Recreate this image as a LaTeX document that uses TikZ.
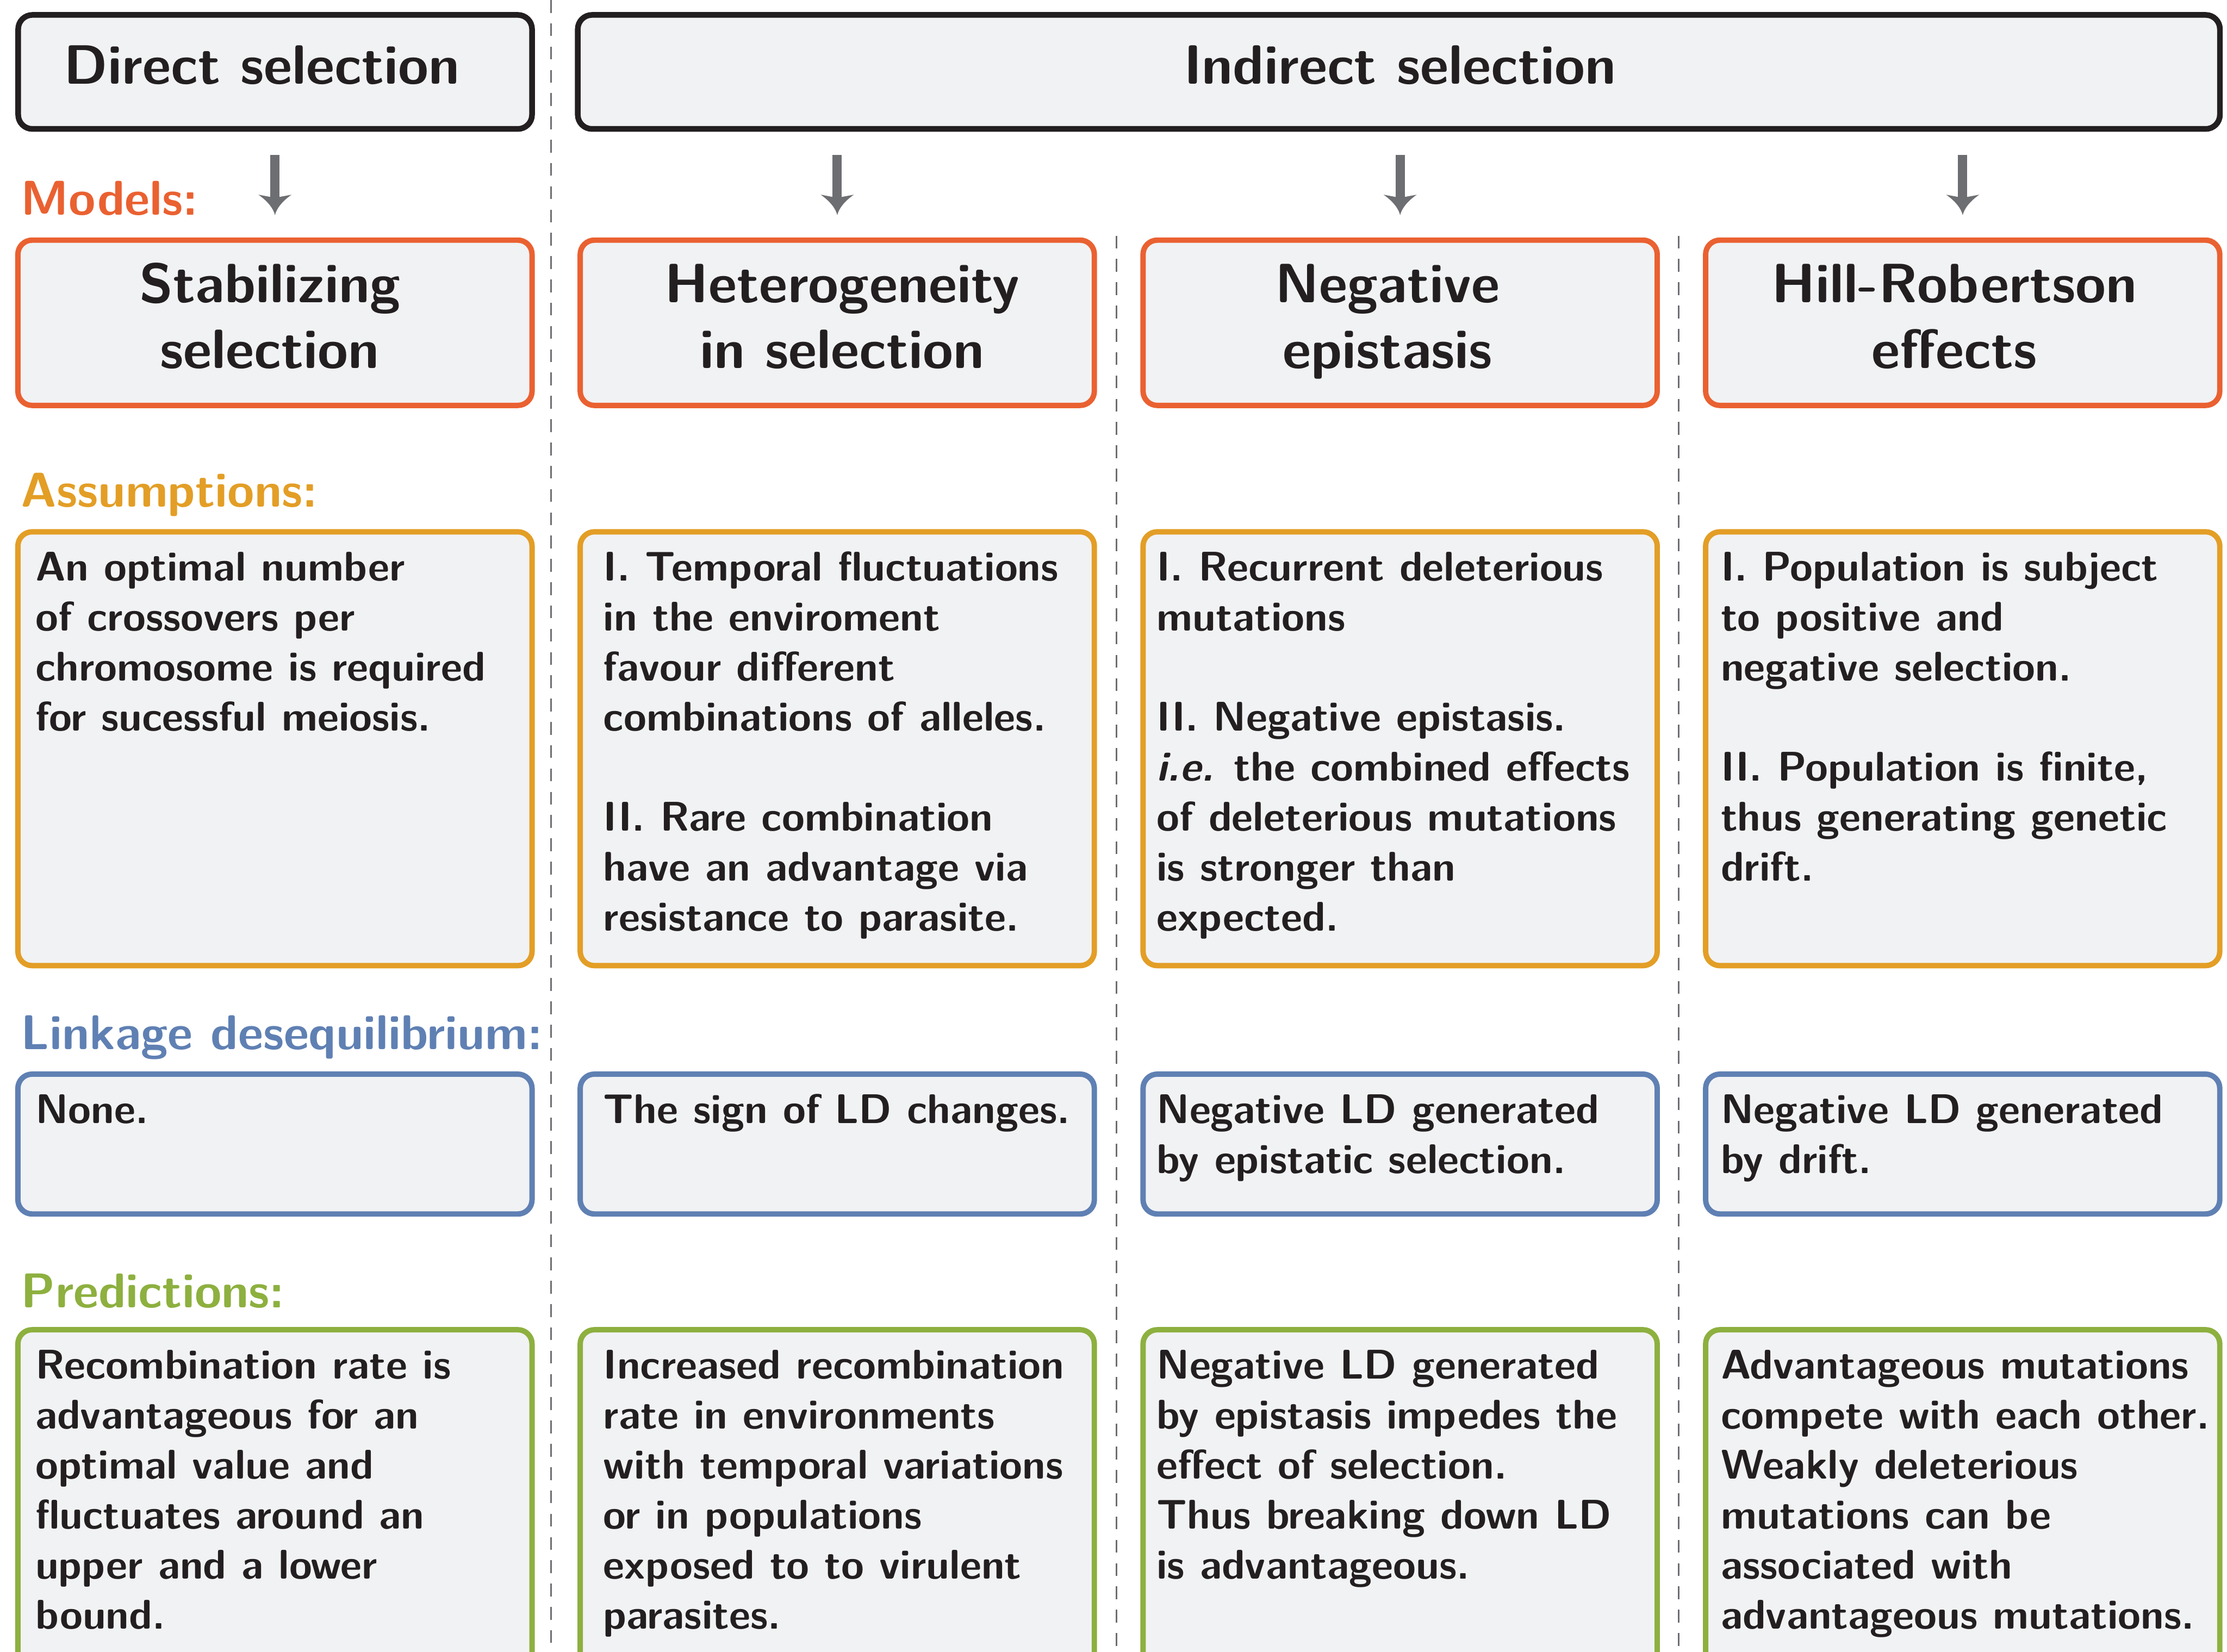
\documentclass[tikz,border=0pt]{standalone}
\usetikzlibrary{arrows.meta}
\definecolor{txt}{HTML}{231F20}
\definecolor{fillg}{HTML}{F1F2F4}
\definecolor{cmodel}{HTML}{EA6131}
\definecolor{cass}{HTML}{E39E26}
\definecolor{cld}{HTML}{5F80B3}
\definecolor{cpred}{HTML}{8DB03F}
\definecolor{garrow}{HTML}{6D6E71}
\newcommand{\bodyfont}{\sffamily\bfseries\fontsize{14.6}{17.6}\selectfont}
\newcommand{\colL}[1]{\begin{tabular}[t]{@{}l@{}}#1\end{tabular}}
\newcommand{\colC}[1]{\begin{tabular}[t]{@{}c@{}}#1\end{tabular}}
\pgfdeclarearrow{
  name=CStealth,
  setup code={
    \pgfarrowssettipend{0pt}
    \pgfarrowssetbackend{-7.2pt}
    \pgfarrowssetlineend{-5.6pt}
  },
  drawing code={
    \pgfpathmoveto{\pgfpointorigin}
    \pgfpathcurveto{\pgfpoint{-2.2pt}{0.5pt}}{\pgfpoint{-4.8pt}{2.4pt}}{\pgfpoint{-7.2pt}{5.83pt}}
    \pgfpathlineto{\pgfpoint{-6.1pt}{0pt}}
    \pgfpathlineto{\pgfpoint{-7.2pt}{-5.83pt}}
    \pgfpathcurveto{\pgfpoint{-4.8pt}{-2.4pt}}{\pgfpoint{-2.2pt}{-0.5pt}}{\pgfpointorigin}
    \pgfpathclose
    \pgfusepathqfill
  }
}
\begin{document}
\begin{tikzpicture}[x=0.5pt,y=-0.5pt,
  panel/.style={draw, fill=fillg, rounded corners=5pt, line width=1.9pt, inner sep=0pt, anchor=north west, minimum width=181pt},
  headbox/.style={panel, draw=txt, line width=2pt, minimum height=40.15pt},
  modelbox/.style={panel, draw=cmodel, minimum height=58.2pt},
  assbox/.style={panel, draw=cass, minimum height=152.75pt},
  ldbox/.style={panel, draw=cld, minimum height=49.25pt},
  predbox/.style={panel, draw=cpred, minimum height=133pt},
  headtext/.style={font=\sffamily\bfseries\fontsize{19.5}{23}\selectfont, text=txt, anchor=base west, inner sep=0pt},
  modeltext/.style={font=\sffamily\bfseries\fontsize{19.5}{23.15}\selectfont, text=txt, anchor=base, inner sep=0pt},
  bodytext/.style={font=\bodyfont, text=txt, anchor=base west, inner sep=0pt},
  sectlabel/.style={font=\sffamily\bfseries\fontsize{17.2}{20}\selectfont, anchor=base west, inner sep=0pt},
  sepline/.style={draw=garrow, line width=0.55pt, dash pattern=on 4.5pt off 3.7pt},
  flow/.style={draw=garrow, line width=3.25pt, -{CStealth}},
]
\useasboundingbox (0,0) rectangle (1568,1163);
\clip (0,0) rectangle (1568,1163);

% separators
\coordinate (d1t) at (388,0);    \coordinate (d1b) at (388,1163);
\coordinate (d2t) at (786,166);  \coordinate (d2b) at (786,1163);
\coordinate (d3t) at (1182,166); \coordinate (d3b) at (1182,1163);
\draw[sepline] (d1t) -- (d1b);
\draw[sepline] (d2t) -- (d2b);
\draw[sepline] (d3t) -- (d3b);

% header boxes
\node[headbox, minimum width=180.9pt] (h1) at (10.8,8.5) {};
\node[headbox, minimum width=578.1pt] (h2) at (404.8,8.5) {};
\node[headtext] (h1t) at (44.5,59.2) {Direct selection};
\node[headtext] (h2t) at (833,59.2) {Indirect selection};

% section labels
\node[sectlabel, text=cmodel] (lm) at (14.5,151.5) {Models:};
\node[sectlabel, text=cass] (la) at (14.5,357) {Assumptions:};
\node[sectlabel, text=cld] (ll) at (14.5,739) {Linkage desequilibrium:};
\node[sectlabel, text=cpred] (lp) at (14.5,921) {Predictions:};

% model boxes
\node[modelbox] (m1) at (10.7,167.2) {};
\node[modelbox] (m2) at (406.6,167.2) {};
\node[modelbox] (m3) at (802.9,167.2) {};
\node[modelbox] (m4) at (1199,167.2) {};
\node[modeltext] (m1t) at (190,213.1) {\colC{Stabilizing\\selection}};
\node[modeltext] (m2t) at (593,213.1) {\colC{Heterogeneity\\in selection}};
\node[modeltext] (m3t) at (977,213.1) {\colC{Negative\\epistasis}};
\node[modeltext] (m4t) at (1376,213.1) {\colC{Hill-Robertson\\effects}};

% arrows
\draw[flow] ([yshift=-8.1pt]h1.south -| m1.north) -- ([yshift=7.85pt]m1.north);
\draw[flow] ([yshift=-8.1pt]h2.south -| m2.north) -- ([yshift=7.85pt]m2.north);
\draw[flow] ([yshift=-8.1pt]h2.south -| m3.north) -- ([yshift=7.85pt]m3.north);
\draw[flow] ([yshift=-8.1pt]h2.south -| m4.north) -- ([yshift=7.85pt]m4.north);

% assumption boxes
\node[assbox] (a1) at (10.7,372.6) {};
\node[assbox] (a2) at (406.6,372.6) {};
\node[assbox] (a3) at (802.9,372.6) {};
\node[assbox] (a4) at (1199,372.6) {};
\node[bodytext] (a1t) at (24.5,409.2) {\colL{An optimal number\\of crossovers per\\chromosome is required\\for sucessful meiosis.}};
\node[bodytext] (a2t) at (424.5,409.2) {\colL{I. Temporal fluctuations\\in the enviroment\\favour different\\combinations of alleles.\\[17.6pt]II. Rare combination\\have an advantage via\\resistance to parasite.}};
\node[bodytext] (a3t) at (814,409.2) {\colL{I. Recurrent deleterious\\mutations\\[17.6pt]II. Negative epistasis.\\\textit{i.e.} the combined effects\\of deleterious mutations\\is stronger than\\expected.}};
\node[bodytext] (a4t) at (1211.2,409.2) {\colL{I. Population is subject\\to positive and\\negative selection.\\[17.6pt]II. Population is finite,\\thus generating genetic\\drift.}};

% LD boxes
\node[ldbox] (l1) at (10.7,754.5) {};
\node[ldbox] (l2) at (406.6,754.5) {};
\node[ldbox] (l3) at (802.9,754.5) {};
\node[ldbox] (l4) at (1199,754.5) {};
\node[bodytext] (l1t) at (24.5,791.1) {\colL{None.}};
\node[bodytext] (l2t) at (424.5,791.1) {\colL{The sign of LD changes.}};
\node[bodytext] (l3t) at (814,791.1) {\colL{Negative LD generated\\by epistatic selection.}};
\node[bodytext] (l4t) at (1211.2,791.1) {\colL{Negative LD generated\\by drift.}};

% prediction boxes
\node[predbox] (p1) at (10.7,934.5) {};
\node[predbox] (p2) at (406.6,934.5) {};
\node[predbox] (p3) at (802.9,934.5) {};
\node[predbox] (p4) at (1199,934.5) {};
\node[bodytext] (p1t) at (24.5,971.1) {\colL{Recombination rate is\\advantageous for an\\optimal value and\\fluctuates around an\\upper and a lower\\bound.}};
\node[bodytext] (p2t) at (424.5,971.1) {\colL{Increased recombination\\rate in environments\\with temporal variations\\or in populations\\exposed to to virulent\\parasites.}};
\node[bodytext] (p3t) at (814,971.1) {\colL{Negative LD generated\\by epistasis impedes the\\effect of selection.\\Thus breaking down LD\\is advantageous.}};
\node[bodytext] (p4t) at (1211.2,971.1) {\colL{Advantageous mutations\\compete with each other.\\Weakly deleterious\\mutations can be\\associated with\\advantageous mutations.}};
\end{tikzpicture}
\end{document}
